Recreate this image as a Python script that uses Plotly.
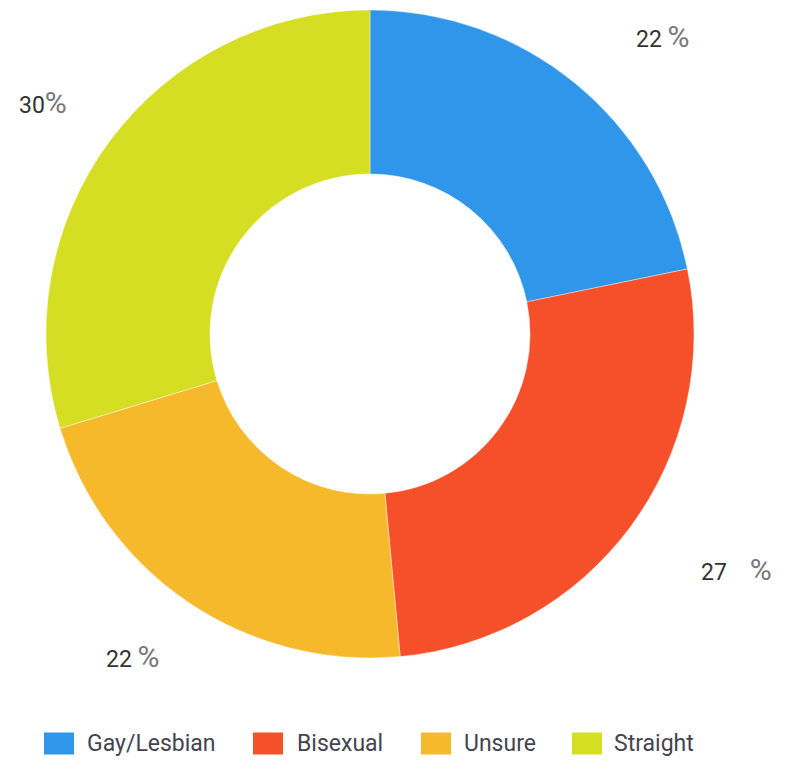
import math
import plotly.graph_objects as go

categories = ["Gay/Lesbian", "Bisexual", "Unsure", "Straight"]
values = [22, 27, 22, 30]
colors = ["#3096E9", "#F6502B", "#F6B92C", "#D5DE22"]
label_gaps = ["&nbsp;", "&nbsp;&nbsp;&nbsp;&nbsp;", "&nbsp;", ""]

# page has an 8px body margin; figure is drawn 8px in from the window edge
OFF = 8
W, H = 790 - OFF, 760 - OFF
cx, cy, R = 370 - OFF, 334 - OFF, 324

fig = go.Figure(go.Pie(
    labels=categories,
    values=values,
    marker=dict(colors=colors, line=dict(color="white", width=0.4)),
    hole=0.494,
    sort=False,
    direction="clockwise",
    rotation=0,
    textinfo="none",
    hoverinfo="label+percent",
    showlegend=False,
    domain=dict(x=[(cx - R) / W, (cx + R) / W], y=[1 - (cy + R) / H, 1 - (cy - R) / H]),
))

total = sum(values)
acc = 0
annotations = []
rx, ry = 1.167 * R, 1.2 * R
for v, gap in zip(values, label_gaps):
    mid = (acc + v / 2) / total * 2 * math.pi
    acc += v
    s, c = math.sin(mid), math.cos(mid)
    px = cx + rx * s
    py = cy - ry * c
    right_side = s > 0
    annotations.append(dict(
        x=px / W, y=1 - py / H, xref="paper", yref="paper",
        xanchor="left" if right_side else "right", yanchor="middle",
        xshift=25 if right_side else 3,
        yshift=-4 if right_side else 0,
        showarrow=False,
        text=f"<span style='color:#333333'>{v}</span>{gap}<span style='font-size:30px;color:#777777'>%</span>",
        font=dict(family="Roboto", size=23, color="#333333"),
    ))

# custom legend (larger swatches than plotly's built-in pie legend)
legend_swatch_x = [44, 253, 421, 572]
legend_text_x = [85, 295, 462, 612]
legend_y = 743.5
shapes = []
for name, col, sx, tx in zip(categories, colors, legend_swatch_x, legend_text_x):
    x0 = (sx - OFF) / W
    x1 = (sx - OFF + 30) / W
    yc = 1 - (legend_y - OFF) / H
    shapes.append(dict(type="rect", xref="paper", yref="paper",
                       x0=x0, x1=x1, y0=yc - 11 / H, y1=yc + 11 / H,
                       fillcolor=col, line=dict(width=0)))
    annotations.append(dict(
        x=(tx - OFF) / W, y=yc, xref="paper", yref="paper",
        xanchor="left", yanchor="middle", showarrow=False, text=name,
        font=dict(family="Roboto", size=23, color="#444450"),
    ))

fig.update_layout(
    width=W, height=H,
    margin=dict(l=0, r=0, t=0, b=0),
    paper_bgcolor="white",
    annotations=annotations,
    shapes=shapes,
    showlegend=False,
)

fig.write_html("out.html")
